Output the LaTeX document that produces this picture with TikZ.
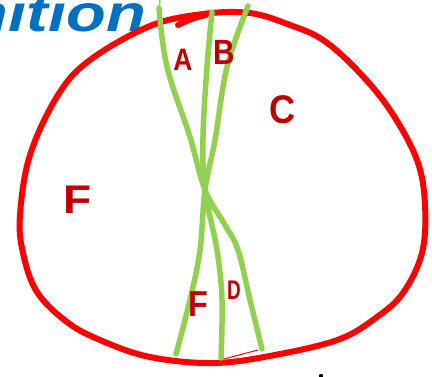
\documentclass[tikz,border=0pt]{standalone}
\usepackage{fontspec}
\setmainfont{Liberation Sans}
\definecolor{ringred}{HTML}{FF0000}
\definecolor{lettred}{HTML}{C00000}
\definecolor{leafgreen}{HTML}{92D050}
\definecolor{inkblue}{HTML}{0070C0}
\newcommand{\lettersize}[1]{\fontsize{#1}{#1}\selectfont\bfseries}
\tikzset{
  ring/.style={draw=ringred, line width=6pt, line cap=round, line join=round},
  strand/.style={draw=leafgreen, line width=5.5pt, line cap=round},
  letter/.style={text=lettred, inner sep=0pt},
  heading/.style={text=inkblue, font=\fontsize{52}{52}\selectfont\bfseries\itshape, inner sep=0pt, xscale=1.25}
}
\begin{document}
\begin{tikzpicture}[x=1pt,y=-1pt]
\useasboundingbox (0,0) rectangle (432,376);
% blue heading, cut off at the top
\node[heading, anchor=base east] (title) at (146,31) {nition};
% red ring
\draw[ring] plot[smooth cycle, tension=0.6] coordinates {
 (150,26) (203,14) (250,13) (290,25) (323,40) (357,70) (390,110) (417,160)
 (425,205) (422,253) (403,293) (377,317) (340,339) (280,354) (215,363)
 (150,357) (100,340) (67,322) (37,292) (23,253) (20,215) (30,155) (58,95) (90,60)};
\draw[ring] (178,25) .. controls (188,20) and (196,17) .. (206,15);
\draw[ringred, line width=1pt] (220,360) -- (258,350);
% green strands
\coordinate (X) at (205,190);
\draw[strand] plot[smooth, tension=0.6] coordinates {(159,8) (167,67) (190,137) (X) (225,225) (238,250) (250,300) (262,349)};
\draw[strand] plot[smooth, tension=0.6] coordinates {(212,12) (207,67) (203,137) (X) (217,250) (222,300) (221,358)};
\draw[strand] plot[smooth, tension=0.6] coordinates {(248,6) (227,67) (215,140) (X) (200,250) (190,300) (176,354)};
\draw[leafgreen, line width=1.5pt, line cap=round] (159,10) -- (160,0);
% letters
\node[letter, font=\lettersize{31}, xscale=0.85] (A) at (183,60) {A};
\node[letter, font=\lettersize{35}, xscale=0.85] (B) at (224,52) {B};
\node[letter, font=\lettersize{40}, xscale=0.9] (C) at (282,110) {C};
\node[letter, font=\lettersize{40}, xscale=1.15] (F1) at (78,200) {F};
\node[letter, font=\lettersize{36}, xscale=0.9] (F2) at (198,304) {F};
\node[letter, font=\lettersize{27}, xscale=0.7] (D) at (234,290) {D};
% tiny mark at the bottom
\fill[black] (321,376) circle (2.2pt);
\end{tikzpicture}
\end{document}
